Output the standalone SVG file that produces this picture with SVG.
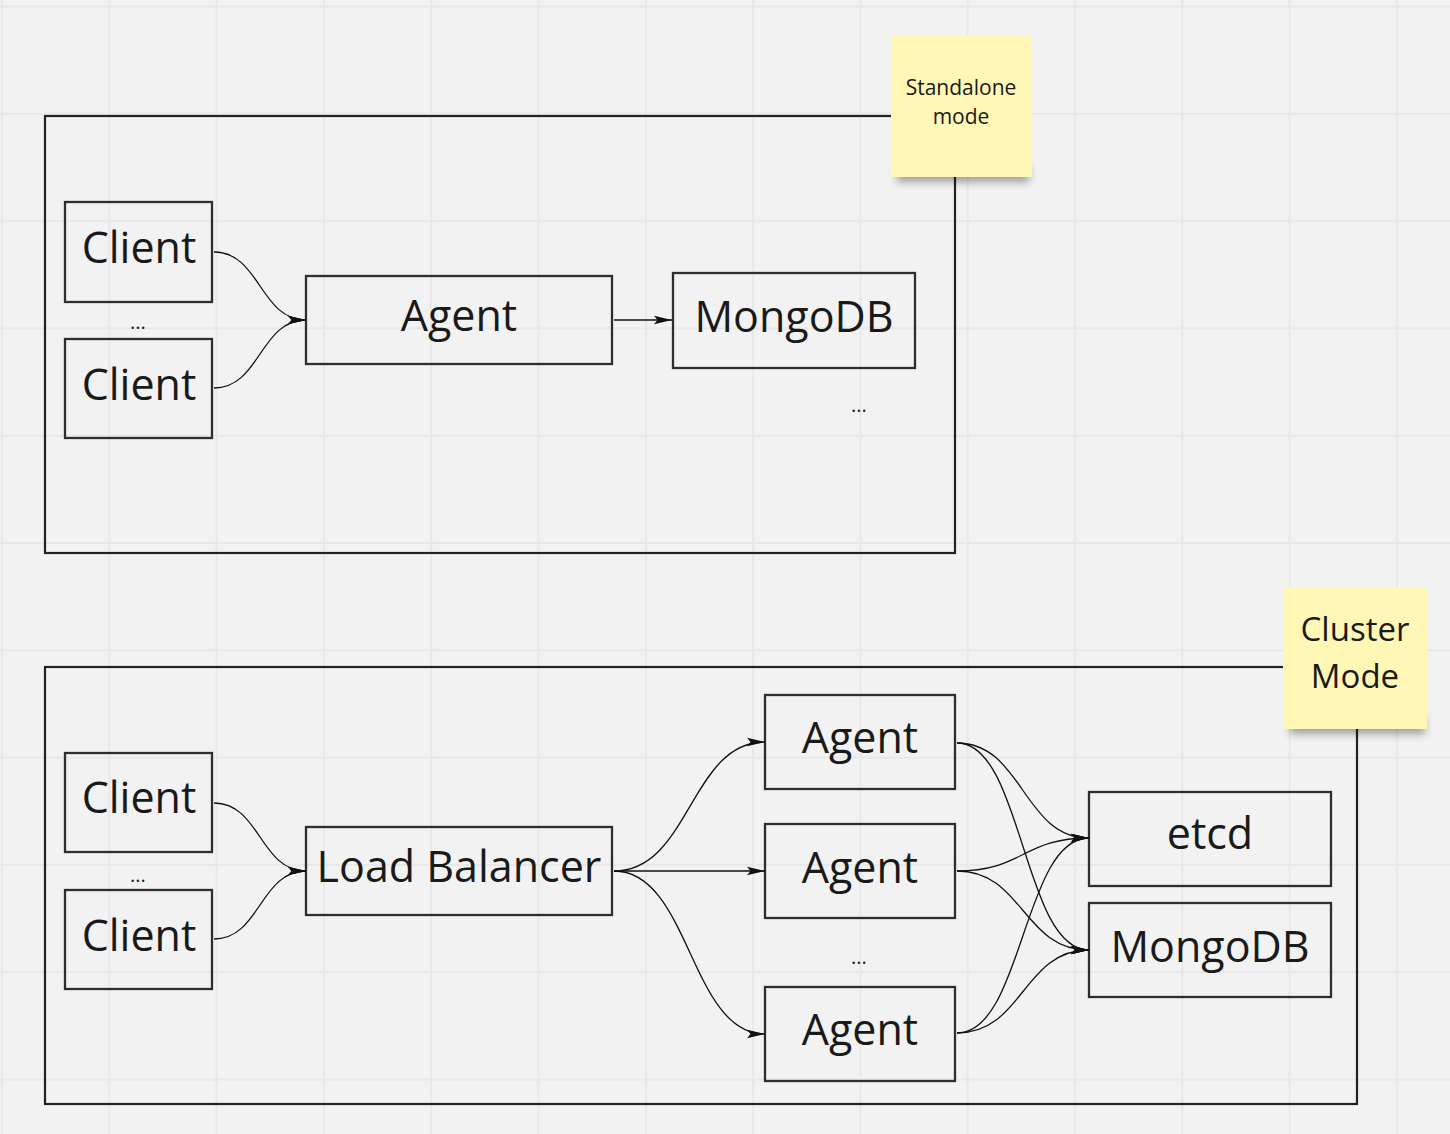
<svg xmlns="http://www.w3.org/2000/svg" width="1450" height="1134" viewBox="0 0 1450 1134">
<defs>
<pattern id="grid" patternUnits="userSpaceOnUse" x="-51.65" y="-47.15" width="107.3" height="107.3">
<path d="M53.65,0 V107.3 M0,53.65 H107.3" stroke="#e8e8e8" stroke-width="2" fill="none"/>
</pattern>
<marker id="arr" markerUnits="userSpaceOnUse" markerWidth="20" markerHeight="12" refX="18" refY="5" orient="auto">
<path d="M0,0.8 L18,5 L0,9.2 L3.5,5 z" fill="#111"/>
</marker>
<filter id="sh" x="-20%" y="-100%" width="140%" height="300%">
<feGaussianBlur stdDeviation="4"/>
</filter>
<style>
.frame{fill:none;stroke:#222;stroke-width:2.2}
.box{fill:none;stroke:#2e2e2e;stroke-width:2.3}
.lbl{font-family:"Open Sans","Liberation Sans",sans-serif;font-size:43px;fill:#1a1a1a;text-anchor:middle}
.dots{font-family:"Open Sans","Liberation Sans",sans-serif;font-size:20px;fill:#1a1a1a;text-anchor:middle}
.note{fill:#fff7b5}
.nt{font-family:"Open Sans","Liberation Sans",sans-serif;fill:#1a1a1a;text-anchor:middle}
.con{fill:none;stroke:#111;stroke-width:1.3;marker-end:url(#arr)}
</style>
</defs>
<rect width="1450" height="1134" fill="#f2f2f2"/>
<rect width="1450" height="1134" fill="url(#grid)"/>

<g id="standalone-frame"><rect class="frame" x="45" y="116" width="910" height="437"/></g>
<g id="cluster-frame"><rect class="frame" x="45" y="667" width="1312" height="437"/></g>

<g id="s-client1"><rect class="box" x="65" y="202" width="147" height="100"/><text class="lbl" x="139" y="263">Client</text></g>
<g id="s-dots1"><text class="dots" x="138" y="329">...</text></g>
<g id="s-client2"><rect class="box" x="65" y="339" width="147" height="99"/><text class="lbl" x="139" y="400">Client</text></g>
<g id="s-agent"><rect class="box" x="306" y="276" width="306" height="88"/><text class="lbl" x="459" y="331">Agent</text></g>
<g id="s-mongodb"><rect class="box" x="673" y="273" width="242" height="95"/><text class="lbl" x="794" y="332">MongoDB</text></g>
<g id="s-dots2"><text class="dots" x="859" y="412">...</text></g>

<g id="c-client1"><rect class="box" x="65" y="753" width="147" height="99"/><text class="lbl" x="139" y="813">Client</text></g>
<g id="c-dots1"><text class="dots" x="138" y="882">...</text></g>
<g id="c-client2"><rect class="box" x="65" y="890" width="147" height="99"/><text class="lbl" x="139" y="951">Client</text></g>
<g id="c-lb"><rect class="box" x="306" y="827" width="306" height="88"/><text class="lbl" x="459" y="882">Load Balancer</text></g>
<g id="c-agent1"><rect class="box" x="765" y="695" width="190" height="94"/><text class="lbl" x="860" y="753">Agent</text></g>
<g id="c-agent2"><rect class="box" x="765" y="824" width="190" height="94"/><text class="lbl" x="860" y="883">Agent</text></g>
<g id="c-dots2"><text class="dots" x="859" y="964">...</text></g>
<g id="c-agent3"><rect class="box" x="765" y="987" width="190" height="94"/><text class="lbl" x="860" y="1045">Agent</text></g>
<g id="c-etcd"><rect class="box" x="1089" y="792" width="242" height="94"/><text class="lbl" x="1210" y="849">etcd</text></g>
<g id="c-mongodb"><rect class="box" x="1089" y="903" width="242" height="94"/><text class="lbl" x="1210" y="962">MongoDB</text></g>

<g id="connectors">
<path class="con" d="M214,252 C260,252 260,320 306,320"/>
<path class="con" d="M214,388 C260,388 260,320 306,320"/>
<path class="con" d="M614,320 L672,320"/>
<path class="con" d="M214,803 C260,803 260,871 306,871"/>
<path class="con" d="M214,939 C260,939 260,871 306,871"/>
<path class="con" d="M614,871 C690,871 690,742 765,742"/>
<path class="con" d="M614,871 L765,871"/>
<path class="con" d="M614,871 C690,871 690,1034 765,1034"/>
<path class="con" d="M957,743 C1023,743 1023,838 1089,838"/>
<path class="con" d="M957,743 C1023,743 1023,950 1089,950"/>
<path class="con" d="M957,871 C1023,871 1023,838 1089,838"/>
<path class="con" d="M957,871 C1023,871 1023,950 1089,950"/>
<path class="con" d="M957,1033 C1023,1033 1023,838 1089,838"/>
<path class="con" d="M957,1033 C1023,1033 1023,950 1089,950"/>
</g>

<g id="note-standalone">
<rect x="897" y="166" width="132" height="16" fill="#000" opacity="0.35" filter="url(#sh)"/>
<rect class="note" x="891" y="35" width="141" height="142"/>
<text class="nt" font-size="21" x="961" y="95">Standalone</text>
<text class="nt" font-size="21" x="961" y="124">mode</text>
</g>
<g id="note-cluster">
<rect x="1290" y="718" width="135" height="16" fill="#000" opacity="0.35" filter="url(#sh)"/>
<rect class="note" x="1283" y="587" width="144" height="142"/>
<text class="nt" font-size="33" x="1355" y="641">Cluster</text>
<text class="nt" font-size="33" x="1355" y="688">Mode</text>
</g>
</svg>
